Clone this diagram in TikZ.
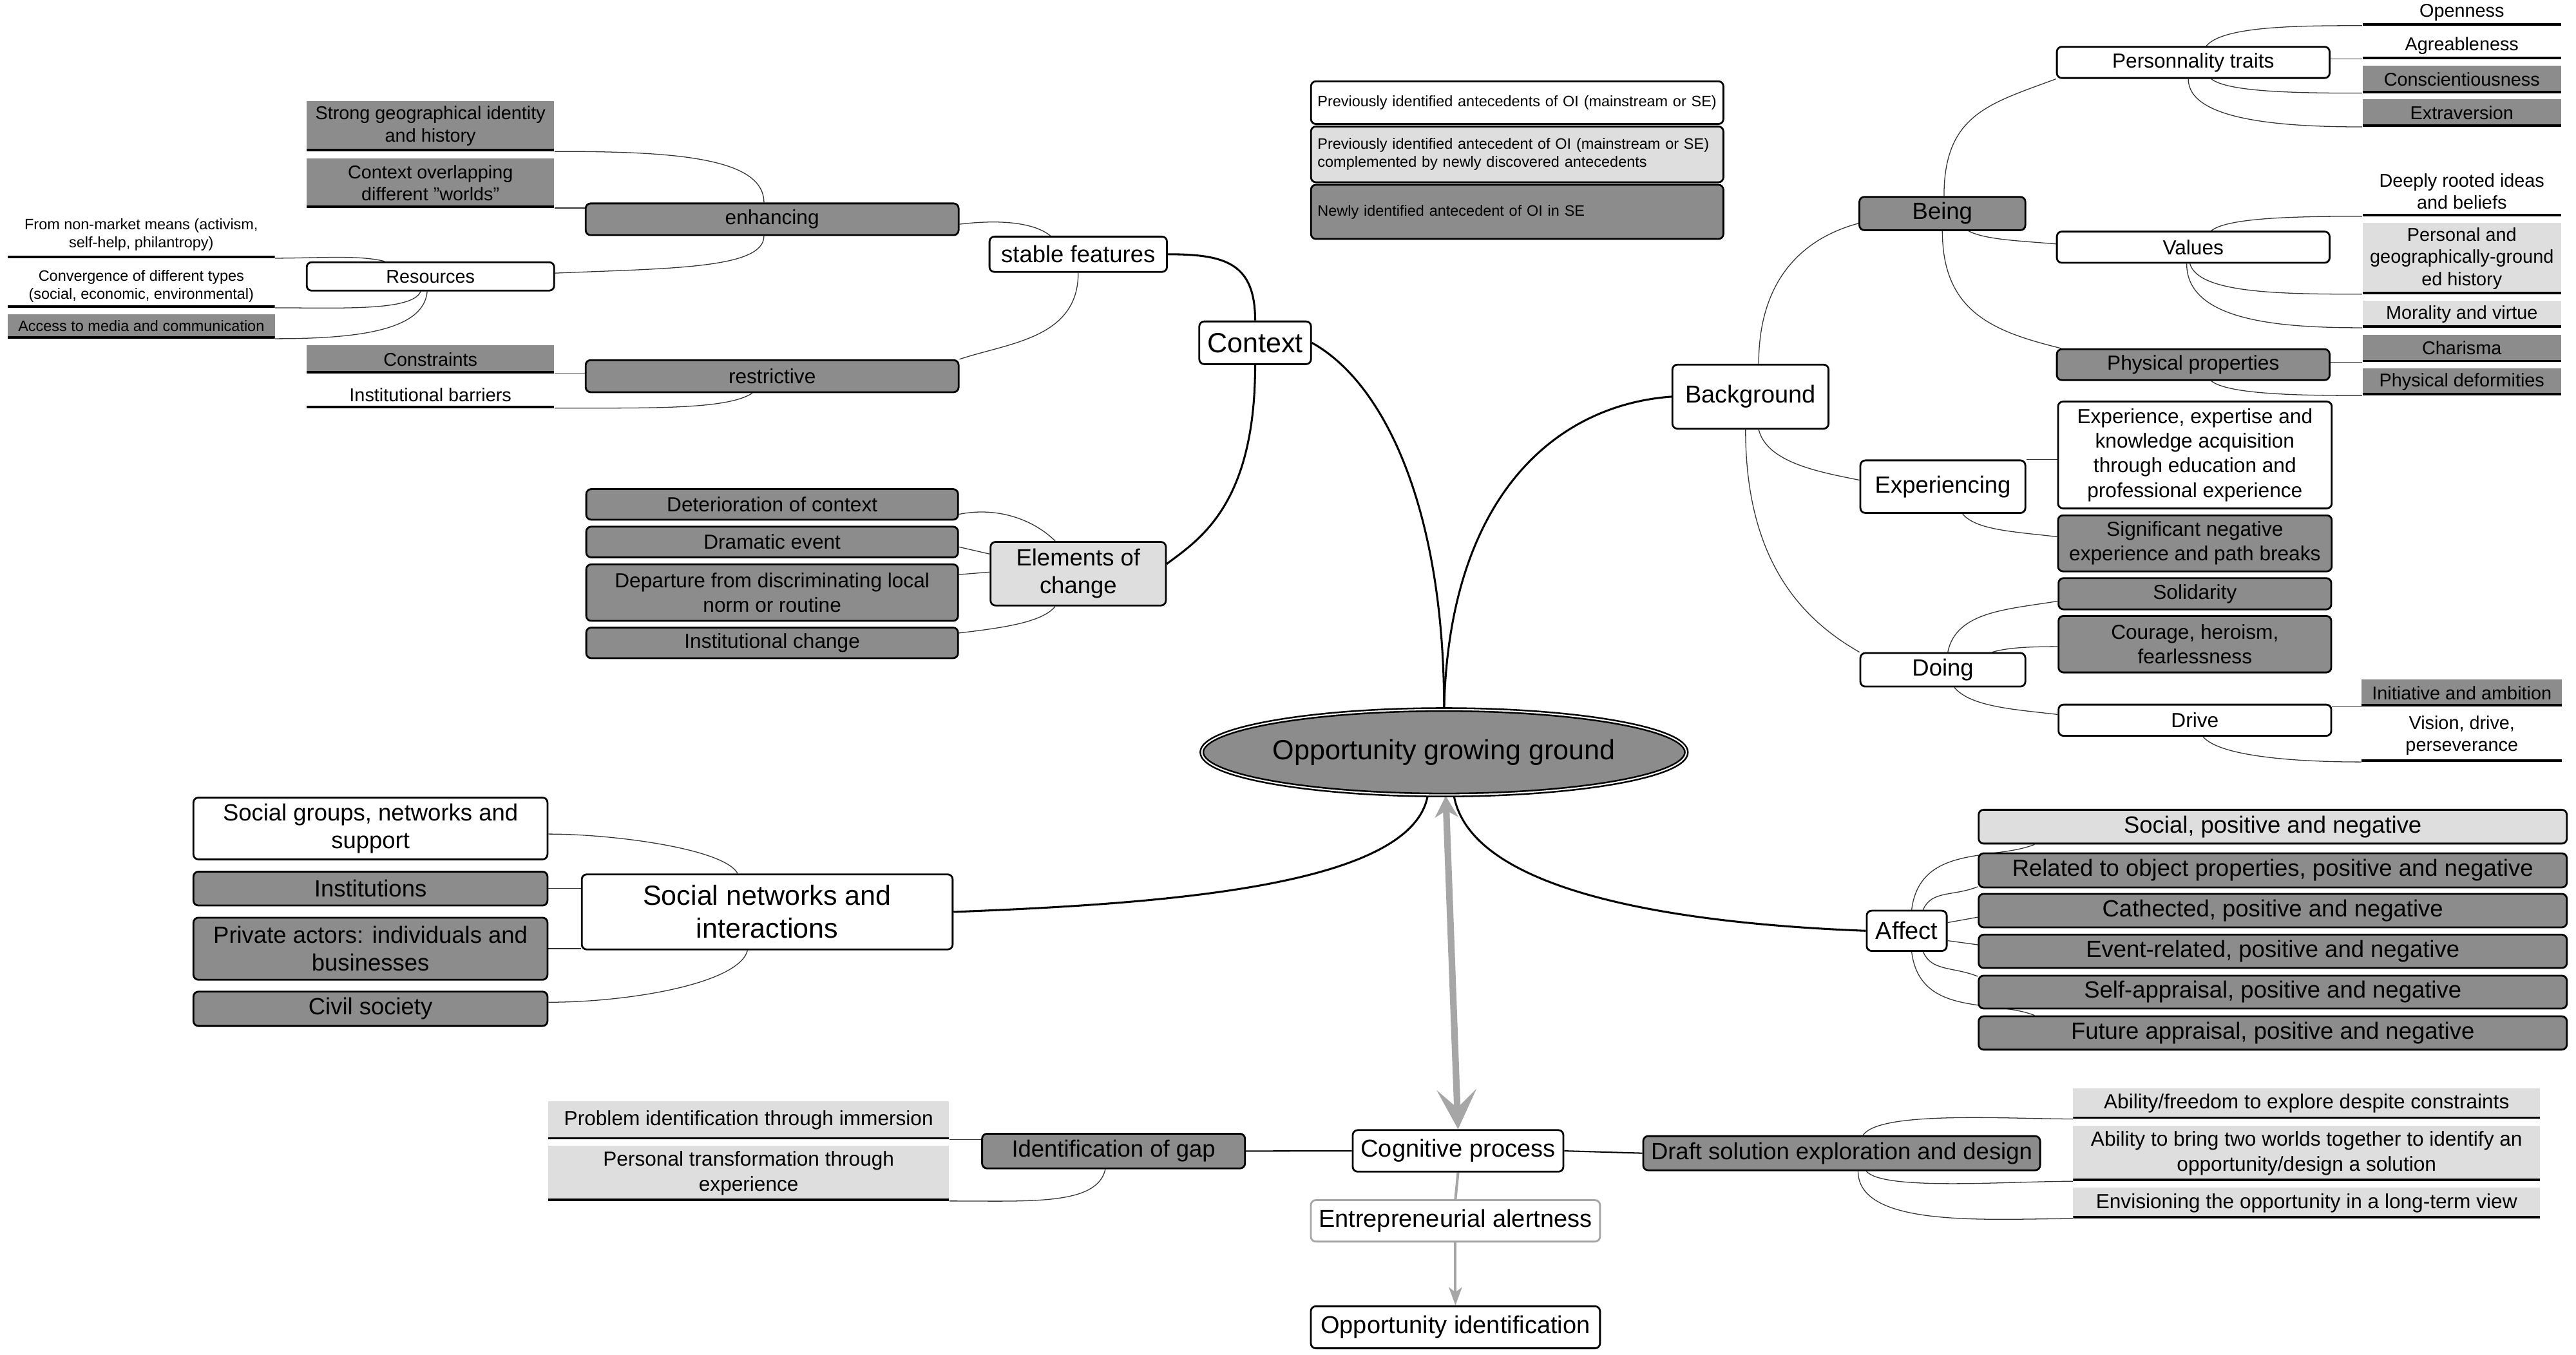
\documentclass[tikz,border=0pt]{standalone}
\usepackage{fontspec}
\setmainfont{Liberation Sans}
\usepackage{tikz}
\usetikzlibrary{arrows.meta}
\usetikzlibrary{shapes.geometric}
\usetikzlibrary{backgrounds}
\definecolor{dgray}{rgb}{0.55,0.55,0.55}
\definecolor{lgray}{rgb}{0.87,0.87,0.87}
\definecolor{agray}{rgb}{0.65,0.65,0.65}

\begin{document}
\begin{tikzpicture}[x=1pt,y=-1pt,
rbox/.style={draw,line width=1.1pt,rounded corners=3pt,fill=#1,align=center,inner sep=0pt},
leaf/.style={fill=#1,align=center,inner sep=0pt,path picture={\draw[line width=2.6pt] (path picture bounding box.south west) -- (path picture bounding box.south east);}},
dims/.style 2 args={minimum width=#1pt,minimum height=#2pt},
f9/.style={font=\fontsize{9.2}{11}\selectfont},
f11/.style={font=\fontsize{11.3}{13.5}\selectfont},
f12/.style={font=\fontsize{12.4}{15}\selectfont},
f14/.style={font=\fontsize{14.3}{17}\selectfont},
f15/.style={font=\fontsize{14.9}{18}\selectfont},
f17/.style={font=\fontsize{16.9}{20}\selectfont},
keybox/.style={f9,align=left,text width=243pt},
ogg/.style={ellipse,draw,fill=dgray,line width=1pt,double=white,double distance=0.8pt,f17,inner sep=0pt,minimum width=255pt,minimum height=52pt},
mainline/.style={line width=1.2pt},
midline/.style={line width=0.8pt},
thinline/.style={line width=0.5pt,black!80},
grayline/.style={agray,line width=1.6pt},
bigarrow/.style={agray,line width=4pt,{Stealth[length=13pt,width=14pt,inset=4pt]}-{Stealth[length=24pt,width=24pt,inset=11pt]}}]
\useasboundingbox (0,0) rectangle (1568,824.6);
\node[rbox=white,keybox,dims={251}{26}] (k1) at (923.5,62.5) {Previously identified antecedents of OI (mainstream or SE)};
\node[rbox=lgray,keybox,dims={251}{34}] (k2) at (923.5,94) {Previously identified antecedent of OI (mainstream or SE)\\complemented by newly discovered antecedents};
\node[rbox=dgray,keybox,dims={251}{33}] (k3) at (923.5,129) {Newly identified antecedent of OI in SE};
\node[ogg] (og) at (879,458) {Opportunity growing ground};
\node[rbox=white,f17,dims={68}{26}] (ctx) at (764,208.7) {Context};
\node[rbox=white,f14,dims={108}{21.5}] (stab) at (656.3,154.8) {stable features};
\node[rbox=dgray,f12,dims={227}{19.3}] (enh) at (470,133.5) {enhancing};
\node[rbox=dgray,f12,dims={227}{19.5}] (restr) at (470,229) {restrictive};
\node[rbox=white,f11,dims={150.6}{17.3}] (res) at (262,168.3) {Resources};
\node[leaf=dgray,f11,dims={150.6}{30.6}] (geo) at (262,76.7) {Strong geographical identity\\and history};
\node[leaf=dgray,f11,dims={150.6}{30.1}] (ovl) at (262,111.4) {Context overlapping\\different "worlds"};
\node[leaf=white,f9,dims={162.5}{28}] (nonm) at (86,143) {From non-market means (activism,\\self-help, philantropy)};
\node[leaf=white,f9,dims={162.5}{26}] (conv) at (86,174.2) {Convergence of different types\\(social, economic, environmental)};
\node[leaf=dgray,f9,dims={162.5}{14.8}] (media) at (86,198.6) {Access to media and communication};
\node[leaf=dgray,f11,dims={150.6}{17}] (constr) at (262,218.8) {Constraints};
\node[leaf=white,f11,dims={150.6}{15.5}] (barr) at (262,240.5) {Institutional barriers};
\node[rbox=lgray,f14,dims={106.7}{38.7}] (chg) at (656.3,349.3) {Elements of\\change};
\node[rbox=dgray,f12,dims={226.3}{18.6}] (det) at (470,307.1) {Deterioration of context};
\node[rbox=dgray,f12,dims={226.3}{18.7}] (dram) at (470,330) {Dramatic event};
\node[rbox=dgray,f12,dims={226.3}{34.4}] (dep) at (470,360.8) {Departure from discriminating local\\norm or routine};
\node[rbox=dgray,f12,dims={226.3}{18.6}] (instc) at (470,391.4) {Institutional change};
\node[rbox=white,f15,dims={95}{39}] (bg) at (1065.5,241.5) {Background};
\node[rbox=dgray,f14,dims={101}{20.3}] (being) at (1182.3,130) {Being};
\node[rbox=white,f12,dims={166}{19}] (pers) at (1335,38) {Personnality traits};
\node[leaf=white,f11,dims={121}{15.4}] (open) at (1498.5,7.7) {Openness};
\node[leaf=white,f11,dims={121}{16}] (agre) at (1498.5,27.8) {Agreableness};
\node[leaf=dgray,f11,dims={121}{16.4}] (consc) at (1498.5,48.3) {Conscientiousness};
\node[leaf=dgray,f11,dims={121}{16.5}] (extra) at (1498.5,68.8) {Extraversion};
\node[rbox=white,f12,dims={166}{19}] (val) at (1335,150.5) {Values};
\node[leaf=white,f11,dims={121}{30}] (deep) at (1498.5,116.5) {Deeply rooted ideas\\and beliefs};
\node[leaf=lgray,f11,dims={121}{43.2}] (pgeo) at (1498.5,157.3) {Personal and\\geographically-ground\\ed history};
\node[leaf=lgray,f11,dims={121}{16.3}] (moral) at (1498.5,191.2) {Morality and virtue};
\node[rbox=dgray,f12,dims={166}{18.8}] (phys) at (1335,222) {Physical properties};
\node[leaf=dgray,f11,dims={121}{16.6}] (char) at (1498.5,212) {Charisma};
\node[leaf=dgray,f11,dims={121}{16.3}] (deform) at (1498.5,232.5) {Physical deformities};
\node[rbox=white,f14,dims={100.4}{32}] (expg) at (1182.6,296.3) {Experiencing};
\node[rbox=white,f12,dims={166.6}{65}] (exper) at (1336,277) {Experience, expertise and\\knowledge acquisition\\through education and\\professional experience};
\node[rbox=dgray,f12,dims={166.6}{34.1}] (signeg) at (1336,330.8) {Significant negative\\experience and path breaks};
\node[rbox=white,f14,dims={100.4}{20.4}] (doing) at (1182.6,407.8) {Doing};
\node[rbox=dgray,f12,dims={166}{19}] (solid) at (1336,361.5) {Solidarity};
\node[rbox=dgray,f12,dims={166}{34.4}] (cour) at (1336,392.2) {Courage, heroism,\\fearlessness};
\node[rbox=white,f12,dims={166}{19}] (drive) at (1336,438.5) {Drive};
\node[leaf=dgray,f11,dims={122}{16.4}] (init) at (1498.5,421.8) {Initiative and ambition};
\node[leaf=white,f11,dims={122}{31.8}] (vis) at (1498.5,447.8) {Vision, drive,\\perseverance};
\node[rbox=white,f15,dims={48.7}{24.5}] (aff) at (1160.6,566.7) {Affect};
\node[rbox=lgray,f14,dims={358}{20.6}] (a1) at (1383.4,503.3) {Social, positive and negative};
\node[rbox=dgray,f14,dims={358}{20.8}] (a2) at (1383.4,529.9) {Related to object properties, positive and negative};
\node[rbox=dgray,f14,dims={358}{20.4}] (a3) at (1383.4,554.4) {Cathected, positive and negative};
\node[rbox=dgray,f14,dims={358}{20.3}] (a4) at (1383.4,579.2) {Event-related, positive and negative};
\node[rbox=dgray,f14,dims={358}{20}] (a5) at (1383.4,604) {Self-appraisal, positive and negative};
\node[rbox=dgray,f14,dims={358}{20.3}] (a6) at (1383.4,628.9) {Future appraisal, positive and negative};
\node[rbox=white,f17,dims={225.7}{45.7}] (soc) at (467,555.2) {Social networks and\\interactions};
\node[rbox=white,f14,dims={215.5}{37.6}] (s1) at (225.5,504.4) {Social groups, networks and\\support};
\node[rbox=dgray,f14,dims={215.5}{20.6}] (s2) at (225.5,541) {Institutions};
\node[rbox=dgray,f14,dims={215.5}{37.8}] (s3) at (225.5,577.6) {Private actors: individuals and\\businesses};
\node[rbox=dgray,f14,dims={215.5}{20.9}] (s4) at (225.5,614.2) {Civil society};
\node[rbox=white,f15,dims={128.2}{25.3}] (cog) at (887.5,700.7) {Cognitive process};
\node[rbox=dgray,f14,dims={160}{21.1}] (gap) at (677.8,700.8) {Identification of gap};
\node[rbox=dgray,f14,dims={241.6}{20.8}] (draft) at (1121,702.1) {Draft solution exploration and design};
\node[leaf=lgray,f12,dims={244}{23}] (prob) at (455.7,682.1) {Problem identification through immersion};
\node[leaf=lgray,f12,dims={244}{33.4}] (ptrans) at (455.7,714.3) {Personal transformation through\\experience};
\node[leaf=lgray,f12,dims={284.2}{18.3}] (abil) at (1404,671.9) {Ability/freedom to explore despite constraints};
\node[leaf=lgray,f12,dims={284.2}{33.6}] (bring) at (1404,702.2) {Ability to bring two worlds together to identify an\\opportunity/design a solution};
\node[leaf=lgray,f12,dims={284.2}{18.7}] (envis) at (1404,732.4) {Envisioning the opportunity in a long-term view};
\node[rbox=white,draw=agray,f15,dims={176}{25.2}] (alert) at (885.9,743.3) {Entrepreneurial alertness};
\node[rbox=white,f15,dims={176}{25.6}] (oppid) at (885.9,808.1) {Opportunity identification};
\begin{scope}[on background layer]
\draw[mainline] (og.north) .. controls +(0,-120) and +(45,25) .. (ctx.east);
\draw[mainline] (og.north) .. controls +(3,-130) and +(-70,5) .. (bg.west);
\draw[mainline] ([xshift=-10pt]og.south) .. controls +(-10,55) and +(130,-5) .. (soc.east);
\draw[mainline] ([xshift=6pt]og.south) .. controls +(10,55) and +(-130,-5) .. (aff.west);
\draw[mainline] (ctx.north) .. controls +(0,-35) and +(35,0) .. (stab.east);
\draw[mainline] (ctx.south) .. controls +(0,85) and +(20,-15) .. ([yshift=6pt]chg.east);
\draw[thinline] ([xshift=-17pt]stab.north) .. controls +(-10,-8) and +(25,-3) .. ([yshift=-3pt]enh.east);
\draw[thinline] (stab.south) .. controls +(0,40) and +(30,-10) .. (restr.north east);
\draw[thinline] ([xshift=-5pt]enh.north) .. controls +(0,-28) and +(70,0) .. (geo.south east);
\draw[thinline] (ovl.south east) -- (ovl.south east -| enh.west);
\draw[thinline] ([xshift=-5pt]enh.south) .. controls +(0,20) and +(70,-3) .. ([yshift=2pt]res.east);
\draw[thinline] ([xshift=-28pt]res.north) .. controls +(-15,-4) and +(25,0) .. (nonm.south east);
\draw[thinline] ([xshift=-6pt]res.south) .. controls +(-5,12) and +(40,0) .. (conv.south east);
\draw[thinline] ([xshift=-2pt]res.south) .. controls +(-2,25) and +(45,0) .. (media.south east);
\draw[thinline] (constr.south east) -- (constr.south east -| restr.west);
\draw[thinline] ([xshift=-12pt]restr.south) .. controls +(-15,10) and +(60,0) .. (barr.south east);
\draw[thinline] ([xshift=-14pt]chg.north) .. controls +(-12,-12) and +(25,-5) .. ([yshift=-6pt]det.east);
\draw[thinline] ([yshift=12pt]chg.west) -- ([yshift=-3pt]dram.east);
\draw[thinline] ([yshift=1pt]chg.west) -- ([yshift=11pt]dep.east);
\draw[thinline] ([xshift=-14pt]chg.south) .. controls +(-8,10) and +(25,-3) .. ([yshift=6pt]instc.east);
\draw[thinline] ([xshift=5pt]bg.north) .. controls +(0,-55) and +(-30,8) .. ([yshift=-6pt]being.west);
\draw[thinline] ([xshift=5pt]bg.south) .. controls +(5,20) and +(-25,-5) .. ([yshift=4pt]expg.west);
\draw[thinline] ([xshift=-3pt]bg.south) .. controls +(0,80) and +(-35,-20) .. (doing.north west);
\draw[thinline] ([xshift=1pt]being.north) .. controls +(0,-50) and +(-40,15) .. (pers.south west);
\draw[thinline] ([xshift=16pt]being.south) .. controls +(10,5) and +(-25,-2) .. ([yshift=2pt]val.west);
\draw[thinline] (being.south) .. controls +(0,50) and +(-40,-10) .. ([xshift=3pt]phys.north west);
\draw[thinline] ([xshift=8pt]pers.north) .. controls +(10,-12) and +(-40,0) .. (open.south west);
\draw[thinline] (agre.south west) -- (agre.south west -| pers.east);
\draw[thinline] ([xshift=11pt]pers.south) .. controls +(10,8) and +(-40,0) .. (consc.south west);
\draw[thinline] ([xshift=-3pt]pers.south) .. controls +(0,25) and +(-50,0) .. (extra.south west);
\draw[thinline] ([xshift=11pt]val.north) .. controls +(10,-8) and +(-40,0) .. (deep.south west);
\draw[thinline] ([xshift=-2pt]val.south) .. controls +(5,18) and +(-50,0) .. (pgeo.south west);
\draw[thinline] ([xshift=-4pt]val.south) .. controls +(0,35) and +(-50,0) .. (moral.south west);
\draw[thinline] (char.south west) -- (char.south west -| phys.east);
\draw[thinline] ([xshift=11pt]phys.south) .. controls +(10,8) and +(-40,0) .. (deform.south west);
\draw[thinline] (expg.north east) -- (expg.north east -| exper.west);
\draw[thinline] ([xshift=12pt]expg.south) .. controls +(8,10) and +(-25,-3) .. ([yshift=4pt]signeg.west);
\draw[thinline] ([xshift=3pt]doing.north) .. controls +(5,-25) and +(-30,5) .. ([yshift=-4.5pt]solid.west);
\draw[thinline] ([xshift=30pt]doing.north) .. controls +(10,-3) and +(-15,0) .. ([yshift=-1.5pt]cour.west);
\draw[thinline] ([xshift=7pt]doing.south) .. controls +(10,12) and +(-25,-3) .. ([yshift=3.5pt]drive.west);
\draw[thinline] (init.south west) -- (init.south west -| drive.east);
\draw[thinline] ([xshift=5pt]drive.south) .. controls +(10,12) and +(-40,0) .. (vis.south west);
\draw[thinline] ([xshift=3pt]aff.north) .. controls +(5,-40) and +(-25,10) .. ([xshift=-145pt]a1.south);
\draw[thinline] ([xshift=10pt]aff.north) .. controls +(5,-12) and +(-15,6) .. ([yshift=1pt]a2.south west);
\draw[thinline] ([yshift=5pt]aff.east) -- ([yshift=-4pt]a3.west);
\draw[thinline] ([yshift=-6pt]aff.east) -- ([yshift=4pt]a4.west);
\draw[thinline] ([xshift=10pt]aff.south) .. controls +(5,12) and +(-15,-6) .. ([yshift=-1pt]a5.north west);
\draw[thinline] ([xshift=3pt]aff.south) .. controls +(5,40) and +(-25,-10) .. ([xshift=-145pt]a6.north);
\draw[thinline] ([xshift=-18pt]soc.north) .. controls +(-8,-15) and +(40,0) .. ([yshift=-3.4pt]s1.east);
\draw[thinline] (s2.east) -- (s2.east -| soc.west);
\draw[thinline] (s3.east) -- (s3.east -| soc.west);
\draw[thinline] ([xshift=-12pt]soc.south) .. controls +(-5,20) and +(50,0) .. ([yshift=4pt]s4.east);
\draw[bigarrow] ([xshift=1pt]og.south) -- (cog.north);
\draw[midline] (cog.west) -- (gap.east);
\draw[midline] (cog.east) -- (draft.west);
\draw[grayline] (cog.south) -- (alert.north);
\draw[grayline,-{Stealth[length=11pt,width=8pt,inset=3pt]}] (alert.south) -- (oppid.north);
\draw[thinline] (prob.south east) -- (prob.south east -| gap.west);
\draw[thinline] ([xshift=-5pt]gap.south) .. controls +(-5,22) and +(50,0) .. (ptrans.south east);
\draw[thinline] ([xshift=13pt]draft.north) .. controls +(10,-15) and +(-40,0) .. (abil.south west);
\draw[thinline] ([xshift=15pt]draft.south) .. controls +(10,12) and +(-40,0) .. (bring.south west);
\draw[thinline] ([xshift=10pt]draft.south) .. controls +(0,35) and +(-50,0) .. (envis.south west);
\end{scope}
\end{tikzpicture}
\end{document}
